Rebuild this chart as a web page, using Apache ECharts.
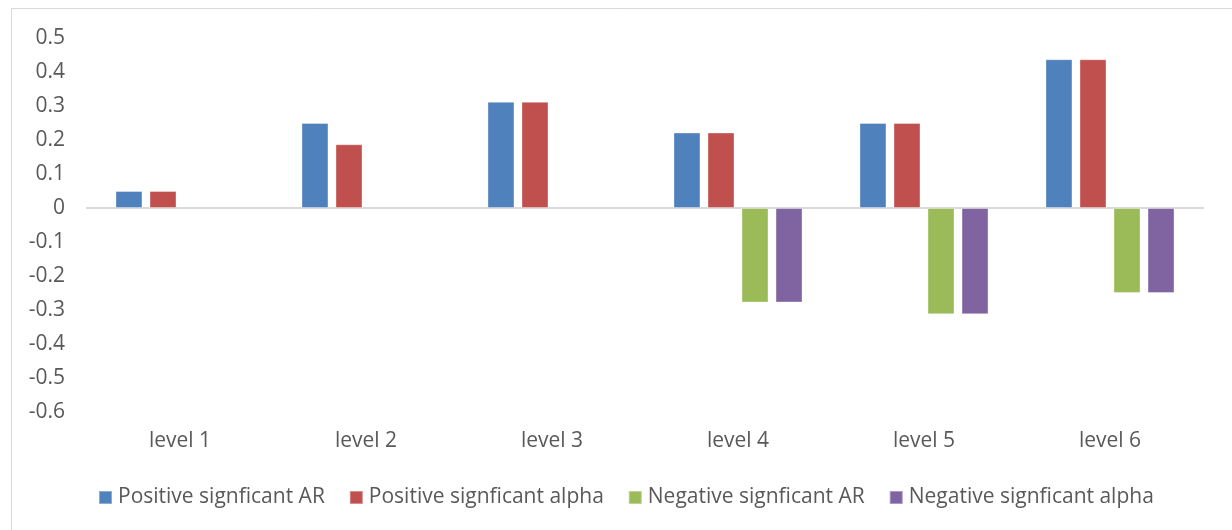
<!DOCTYPE html>
<html>
<head>
<meta charset="utf-8">
<script src="https://cdn.jsdelivr.net/npm/echarts@6/dist/echarts.min.js"></script>
<style>
html, body { margin: 0; padding: 0; background: #fff; }
#chart { width: 1232px; height: 530px; }
</style>
</head>
<body>
<div id="chart"></div>
<script>
const levels = ['level 1', 'level 2', 'level 3', 'level 4', 'level 5', 'level 6']
const posAR = [0.05, 0.25, 0.3125, 0.222, 0.25, 0.4375]
const posAlpha = [0.05, 0.1875, 0.3125, 0.222, 0.25, 0.4375]
const negAR = [null, null, null, -0.278, -0.3125, -0.25]
const negAlpha = [null, null, null, -0.278, -0.3125, -0.25]

const fontFamily = '"Open Sans", sans-serif'
const textColor = '#595959'

const chart = echarts.init(document.getElementById('chart'))

const makeSeries = (name, data, color) => ({
    name: name,
    type: 'bar',
    data: data,
    barWidth: 27,
    barGap: '26%',
    itemStyle: {
        color: color,
        borderColor: 'rgba(255,255,255,0.35)',
        borderWidth: 1,
    },
})

chart.setOption({
    backgroundColor: '#fff',
    animation: false,
    textStyle: { fontFamily: fontFamily },
    graphic: [
        {
            type: 'rect',
            shape: { x: 11.5, y: 8.5, width: 1240, height: 540 },
            style: { fill: 'none', stroke: '#d9d9d9', lineWidth: 1 },
            silent: true,
        },
    ],
    legend: {
        bottom: 17,
        left: 93,
        itemWidth: 13,
        itemHeight: 13,
        itemGap: 24,
        icon: 'rect',
        textStyle: { color: textColor, fontSize: 21, fontFamily: fontFamily, padding: [0, 0, 0, 1] },
        data: ['Positive signficant AR', 'Positive signficant alpha', 'Negative signficant AR', 'Negative signficant alpha'],
    },
    grid: {
        top: 38,
        left: 87,
        right: 29,
        bottom: 118,
    },
    xAxis: {
        type: 'category',
        data: levels,
        axisLine: { onZero: true, lineStyle: { color: '#d9d9d9', width: 2 } },
        axisTick: { show: false },
        axisLabel: {
            color: textColor,
            fontSize: 21,
            fontFamily: fontFamily,
            margin: 19,
        },
        position: 'bottom',
    },
    yAxis: {
        type: 'value',
        min: -0.6,
        max: 0.5,
        interval: 0.1,
        splitLine: { show: false },
        axisLine: { show: false },
        axisTick: { show: false },
        axisLabel: {
            color: textColor,
            fontSize: 21,
            fontFamily: fontFamily,
            margin: 22,
            formatter: function (v) {
                const r = Math.round(v * 10) / 10
                return r === 0 ? '0' : String(r)
            },
        },
    },
    series: [
        makeSeries('Positive signficant AR', posAR, '#4F81BD'),
        makeSeries('Positive signficant alpha', posAlpha, '#C0504D'),
        makeSeries('Negative signficant AR', negAR, '#9BBB59'),
        makeSeries('Negative signficant alpha', negAlpha, '#8064A2'),
    ],
})
</script>
</body>
</html>
